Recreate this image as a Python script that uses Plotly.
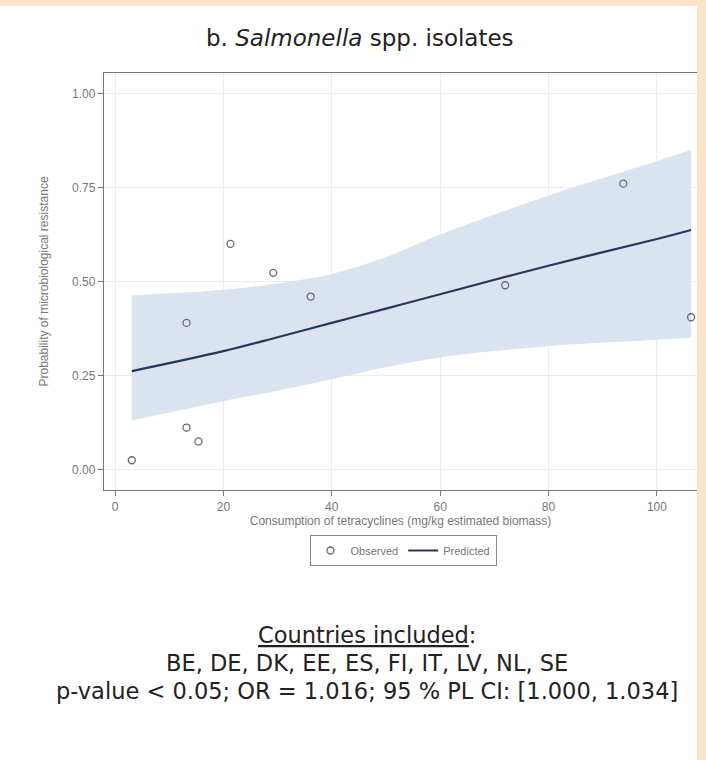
import plotly.graph_objects as go

# Observed data points
obs_x = [3.1, 13.2, 13.2, 15.4, 21.3, 29.2, 36.1, 72.0, 93.8, 106.3]
obs_y = [0.025, 0.39, 0.112, 0.075, 0.60, 0.523, 0.46, 0.49, 0.76, 0.405]

# Predicted curve and 95% band
pred_x = [3.1, 20, 30, 40, 50, 60, 80, 100, 106.3]
pred_y = [0.262, 0.315, 0.352, 0.390, 0.428, 0.466, 0.542, 0.613, 0.637]
band_upper = [0.463, 0.478, 0.495, 0.520, 0.565, 0.625, 0.728, 0.820, 0.850]
band_lower = [0.131, 0.182, 0.210, 0.240, 0.272, 0.298, 0.328, 0.345, 0.351]

x_ticks = [0, 20, 40, 60, 80, 100]
y_ticks = [0.0, 0.25, 0.5, 0.75, 1.0]
y_tick_labels = ["0.00", "0.25", "0.50", "0.75", "1.00"]

W, H = 706, 760
L, R, T, B = 104, 9, 73, 270
pw, ph = W - L - R, H - T - B

def px_x(p):
    return (p - L) / pw

def px_y(p):
    return (H - B - p) / ph

beige = "#fce3c9"
axis_font = dict(family="Liberation Sans, Arial", size=12, color="#777")
text_font = dict(family="DejaVu Sans, Verdana", size=22.5, color="#222")

fig = go.Figure()
fig.add_trace(go.Scatter(x=pred_x, y=band_lower, mode="lines", line=dict(width=0, shape="spline"),
                         showlegend=False, hoverinfo="skip"))
fig.add_trace(go.Scatter(x=pred_x, y=band_upper, mode="lines", line=dict(width=0, shape="spline"),
                         fill="tonexty", fillcolor="#dbe3f0", showlegend=False, hoverinfo="skip"))
fig.add_trace(go.Scatter(x=obs_x, y=obs_y, mode="markers", name="Observed",
                         marker=dict(symbol="circle-open", size=7, color="#6b6b6b", line=dict(width=1.3))))
fig.add_trace(go.Scatter(x=pred_x, y=pred_y, mode="lines", name="Predicted",
                         line=dict(color="#26375a", width=2.2, shape="spline")))

fig.update_layout(
    width=W, height=H,
    margin=dict(l=L, r=R, t=T, b=B),
    paper_bgcolor="white", plot_bgcolor="white",
    showlegend=True,
    legend=dict(orientation="h", x=px_x(403), xanchor="center", y=px_y(535), yanchor="top",
                traceorder="normal",
                bordercolor="#888", borderwidth=1, font=dict(family="Liberation Sans, Arial", size=11, color="#777"),
                tracegroupgap=0),
    xaxis=dict(range=[-2.03, 107.4], tickvals=x_ticks, ticks="outside", ticklen=5, tickcolor="#777",
               showline=True, linecolor="#777", linewidth=1.3, mirror=True,
               showgrid=True, gridcolor="#ececec", zeroline=False, tickfont=axis_font,
               title=dict(text="Consumption of tetracyclines (mg/kg estimated biomass)", font=axis_font, standoff=0)),
    yaxis=dict(range=[-0.054, 1.054], tickvals=y_ticks, ticktext=y_tick_labels, ticks="outside", ticklen=5,
               tickcolor="#777", showline=True, linecolor="#777", linewidth=1.3, mirror=True,
               showgrid=True, gridcolor="#ececec", zeroline=False, tickfont=axis_font,
               title=dict(text="Probability of microbiological resistance", font=axis_font, standoff=20)),
    shapes=[
        dict(type="rect", xref="paper", yref="paper", x0=px_x(0), x1=px_x(W), y0=px_y(6), y1=px_y(0),
             fillcolor=beige, line=dict(width=0), layer="above"),
        dict(type="rect", xref="paper", yref="paper", x0=px_x(697), x1=px_x(W), y0=px_y(H), y1=px_y(0),
             fillcolor=beige, line=dict(width=0), layer="above"),
    ],
    annotations=[
        dict(text="b. <i>Salmonella</i> spp. isolates", xref="paper", yref="paper", x=px_x(360), y=px_y(38),
             xanchor="center", yanchor="middle", showarrow=False,
             font=dict(family="DejaVu Sans, Verdana", size=23, color="#222")),
        dict(text="<u>Countries included</u>:", xref="paper", yref="paper", x=px_x(367), y=px_y(635),
             xanchor="center", yanchor="middle", showarrow=False, font=text_font),
        dict(text="BE, DE, DK, EE, ES, FI, IT, LV, NL, SE", xref="paper", yref="paper", x=px_x(367), y=px_y(663),
             xanchor="center", yanchor="middle", showarrow=False, font=text_font),
        dict(text="p-value &lt; 0.05; OR = 1.016; 95 % PL CI: [1.000, 1.034]", xref="paper", yref="paper",
             x=px_x(367), y=px_y(691), xanchor="center", yanchor="middle", showarrow=False, font=text_font),
    ],
)

fig.write_html("out.html")
